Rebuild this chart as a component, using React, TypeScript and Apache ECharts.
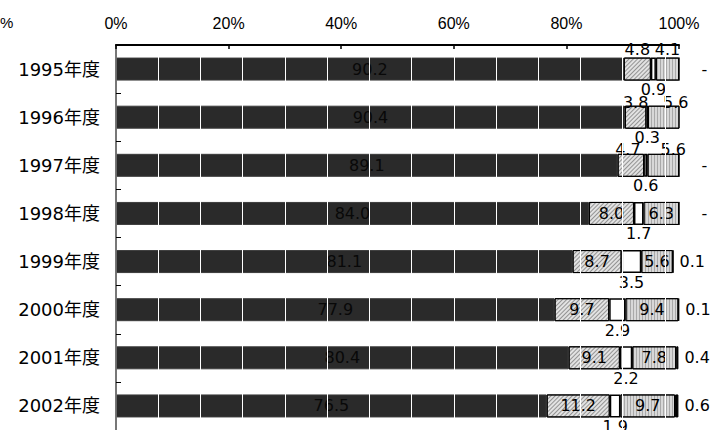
import React, { useEffect, useRef } from 'react';
import * as echarts from 'echarts';

// Fiscal years, top to bottom
const years = ['1995年度', '1996年度', '1997年度', '1998年度', '1999年度', '2000年度', '2001年度', '2002年度'];

// Shares (%) of each segment per year
const shareA = [90.2, 90.4, 89.1, 84.0, 81.1, 77.9, 80.4, 76.5];
const shareB = [4.8, 3.8, 4.7, 8.0, 8.7, 9.7, 9.1, 11.2];
const shareC = [0.9, 0.3, 0.6, 1.7, 3.5, 2.9, 2.2, 1.9];
const shareD = [4.1, 5.6, 5.6, 6.3, 5.6, 9.4, 7.8, 9.7];
const shareE = [0, 0, 0, 0, 0.1, 0.1, 0.4, 0.6];

// Axis scale
const axisMin = 0;
const axisMax = 100;
const axisStep = 20;

const AXIS_FONT = '"Liberation Sans", Arial, "Noto Sans CJK JP", sans-serif';
const TEXT_FONT = '"DejaVu Sans", "Noto Sans CJK JP", sans-serif';

// Narrow segments in the first rows carry their labels above the bar
const labelAboveRows = 3;
const aboveShiftB: number[][] = [[0, 0], [0, 5], [-3, 4]];
const aboveShiftD: number[][] = [[0, 0], [12, 5], [10, 4]];

const fmt = (v: number) => v.toFixed(1);

function withLabels(values: number[], shifts: number[][]) {
  return values.map((v, i) =>
    i < labelAboveRows
      ? { value: v, label: { position: 'top', distance: 0, offset: shifts[i] } }
      : { value: v, label: { position: 'inside' } }
  );
}

export default function App() {
  const ref = useRef<HTMLDivElement>(null);

  useEffect(() => {
    document.body.style.margin = '0';
    if (!ref.current) return;
    const chart = echarts.init(ref.current, undefined, { renderer: 'svg' });

    const labelBase = {
      show: true,
      fontSize: 16,
      color: '#000',
      fontFamily: TEXT_FONT,
      formatter: (p: any) => fmt(p.value),
    };

    const option: any = {
      animation: false,
      backgroundColor: '#ffffff',
      textStyle: { fontFamily: AXIS_FONT },
      grid: { left: 116, right: 47, top: 45, height: 388 },
      graphic: [
        {
          type: 'text',
          x: 0,
          y: 22,
          style: { text: '%', fontSize: 15, fontFamily: AXIS_FONT, fill: '#000', verticalAlign: 'middle' },
        },
      ],
      xAxis: [
        {
          type: 'value',
          position: 'top',
          min: axisMin,
          max: axisMax,
          interval: axisStep,
          z: 6,
          axisLine: { show: true, lineStyle: { color: '#000', width: 2 } },
          axisTick: { show: true, inside: true, length: 4, lineStyle: { color: '#000', width: 1.5 } },
          axisLabel: { formatter: '{value}%', fontSize: 16, color: '#000', margin: 14, fontFamily: AXIS_FONT },
          splitLine: { show: false },
        },
        {
          // fine white rules running across the bars
          type: 'value',
          position: 'bottom',
          min: 0,
          max: 100,
          interval: 7.5,
          z: 3,
          axisLine: { show: false },
          axisTick: { show: false },
          axisLabel: { show: false },
          splitLine: {
            show: true,
            showMinLine: false,
            showMaxLine: false,
            lineStyle: { color: '#ffffff', width: 1 },
          },
        },
      ],
      yAxis: [
        {
          type: 'category',
          data: years,
          inverse: true,
          z: 6,
          axisLine: { show: true, lineStyle: { color: '#000', width: 1.5 } },
          axisTick: { show: true, inside: true, length: 5, lineStyle: { color: '#000', width: 1 } },
          axisLabel: { fontSize: 18, color: '#000', margin: 16, fontFamily: TEXT_FONT },
        },
        {
          type: 'category',
          data: years,
          inverse: true,
          position: 'right',
          z: 6,
          axisLine: { show: true, lineStyle: { color: '#8a8a8a', width: 1.5 } },
          axisTick: { show: false },
          axisLabel: { show: false },
        },
      ],
      series: [
        {
          name: 'A',
          type: 'bar',
          stack: 'total',
          barWidth: 23,
          data: shareA,
          itemStyle: { color: '#2a2a2a', borderColor: '#3c3c3c', borderWidth: 1 },
          label: { ...labelBase, position: 'inside', color: '#080808' },
        },
        {
          name: 'B',
          type: 'bar',
          stack: 'total',
          barWidth: 23,
          data: withLabels(shareB, aboveShiftB),
          itemStyle: {
            color: '#e2e2e2',
            borderColor: '#000',
            borderWidth: 1,
            decal: {
              symbol: 'rect',
              symbolSize: 1,
              color: 'rgba(0,0,0,0.35)',
              dashArrayX: [1, 0],
              dashArrayY: [1, 2],
              rotation: -Math.PI / 4,
            },
          },
          label: { ...labelBase },
        },
        {
          name: 'C',
          type: 'bar',
          stack: 'total',
          barWidth: 23,
          data: shareC,
          itemStyle: { color: '#ffffff', borderColor: '#000', borderWidth: 1.5 },
          label: { ...labelBase, position: 'bottom', distance: 1 },
        },
        {
          name: 'D',
          type: 'bar',
          stack: 'total',
          barWidth: 23,
          data: withLabels(shareD, aboveShiftD),
          itemStyle: {
            color: '#d8d8d8',
            borderColor: '#000',
            borderWidth: 1,
            decal: {
              symbol: 'rect',
              symbolSize: 1,
              color: 'rgba(0,0,0,0.22)',
              dashArrayX: [1, 2],
              dashArrayY: [4, 0],
              rotation: 0,
            },
          },
          label: { ...labelBase },
        },
        {
          name: 'E',
          type: 'bar',
          stack: 'total',
          barWidth: 23,
          data: shareE.map((v) =>
            v === 0 ? { value: v, label: { formatter: '-', offset: [16, 0] } } : v
          ),
          itemStyle: { color: '#000', borderColor: '#000', borderWidth: 1 },
          label: { ...labelBase, position: 'right', distance: 6 },
        },
      ],
    };

    chart.setOption(option);
    return () => chart.dispose();
  }, []);

  return <div ref={ref} style={{ width: 726, height: 430 }} />;
}
